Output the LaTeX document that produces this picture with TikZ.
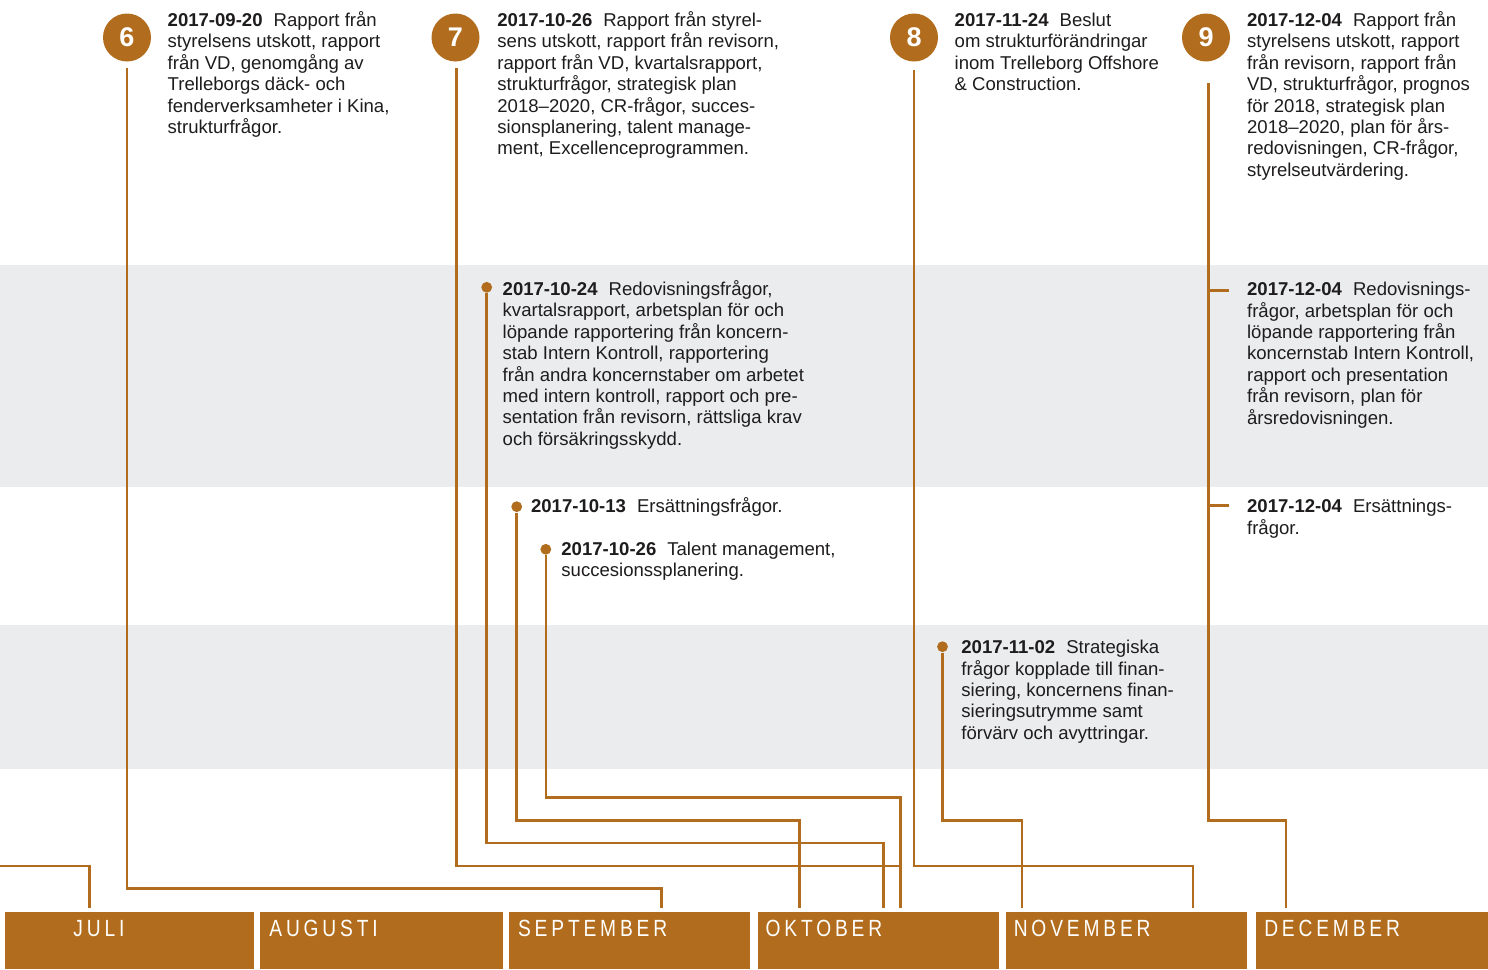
\documentclass[tikz,border=0pt]{standalone}
\usepackage{fontspec}
\setmainfont{Liberation Sans}
\newfontfamily\monthfont[LetterSpace=20]{Liberation Sans}
\usepackage{tikz}
\definecolor{brun}{RGB}{177,109,29}
\definecolor{ljusgra}{RGB}{235,236,238}
\definecolor{textsvart}{RGB}{30,28,29}
\newcommand{\datum}[1]{\rule{0pt}{8pt}\textbf{#1}\hspace{5.5pt}}

\begin{document}
\begin{tikzpicture}
    [line cap=butt,line join=miter,x=0.5pt,y=-0.5pt,
     linje/.style={draw=brun,line width=1.3pt},
     nummer/.style={circle,fill=brun,minimum size=24pt,inner sep=0pt,text=white,
                    font=\fontsize{13.5}{13.5}\selectfont\bfseries},
     prick/.style={circle,fill=brun,minimum size=5.4pt,inner sep=0pt},
     handelse/.style={anchor=north west,align=left,inner sep=0pt,text=textsvart,
                      font=\fontsize{9.28}{10.7}\selectfont},
     manad/.style={anchor=north west,fill=brun,minimum height=28.5pt,inner sep=0pt},
     manadstext/.style={anchor=base west,inner sep=0pt,text=white,
                        font=\fontsize{11.7}{12}\monthfont}]
%background and grey bands
\useasboundingbox (0,0) rectangle (1488,969);
\fill[white] (0,0) rectangle (1488,969);
\fill[ljusgra] (0,265) rectangle (1488,487);
\fill[ljusgra] (0,625) rectangle (1488,768.5);

%months
\node[manad,minimum width=124.8pt] (jul) at (4.4,912) {};
\node[manad,minimum width=121.5pt] (aug) at (260,912) {};
\node[manad,minimum width=120.75pt] (sep) at (508.5,912) {};
\node[manad,minimum width=120.75pt] (okt) at (757.5,912) {};
\node[manad,minimum width=120.5pt] (nov) at (1006,912) {};
\node[manad,minimum width=116pt] (dec) at (1256,912) {};
\node[manadstext] (jul-t) at (73,936) {\scalebox{0.82}[1]{JULI}};
\node[manadstext] (aug-t) at (269,936) {\scalebox{0.82}[1]{AUGUSTI}};
\node[manadstext] (sep-t) at (517.7,936) {\scalebox{0.82}[1]{SEPTEMBER}};
\node[manadstext] (okt-t) at (765.3,936) {\scalebox{0.82}[1]{OKTOBER}};
\node[manadstext] (nov-t) at (1013.4,936) {\scalebox{0.82}[1]{NOVEMBER}};
\node[manadstext] (dec-t) at (1263.9,936) {\scalebox{0.82}[1]{DECEMBER}};

%points on the month bar
\coordinate (jul0) at (jul.north -| 89.7,0);
\coordinate (s20) at (sep.north -| 661.7,0);
\coordinate (o13) at (okt.north -| 799.6,0);
\coordinate (o24) at (okt.north -| 883.5,0);
\coordinate (o26) at (okt.north -| 900.5,0);
\coordinate (n02) at (nov.north -| 1022,0);
\coordinate (n24) at (nov.north -| 1193,0);
\coordinate (d04) at (dec.north -| 1286,0);
\coordinate (vanster) at (0,866);

%board meetings
\node[nummer] (m6) at (127,37.5) {6};
\node[nummer] (m7) at (455.5,37.5) {7};
\node[nummer] (m8) at (914,37.5) {8};
\node[nummer] (m9) at (1206,37.5) {9};

\node[handelse] (e6) at (167.3,10) {\datum{2017-09-20}Rapport från\\
  styrelsens utskott, rapport\\ från VD, genomgång av\\ Trelleborgs däck- och\\
  fenderverksamheter i Kina,\\ strukturfrågor.};
\node[handelse] (e7) at (497,10) {\datum{2017-10-26}Rapport från styrel-\\
  sens utskott, rapport från revisorn,\\ rapport från VD, kvartalsrapport,\\
  strukturfrågor, strategisk plan\\ 2018--2020, CR-frågor, succes-\\
  sionsplanering, talent manage-\\ ment, Excellenceprogrammen.};
\node[handelse] (e8) at (954.3,10) {\datum{2017-11-24}Beslut\\
  om strukturförändringar\\ inom Trelleborg Offshore\\ \& Construction.};
\node[handelse] (e9) at (1246.7,10) {\datum{2017-12-04}Rapport från\\
  styrelsens utskott, rapport\\ från revisorn, rapport från\\
  VD, strukturfrågor, prognos\\ för 2018, strategisk plan\\
  2018--2020, plan för års-\\ redovisningen, CR-frågor,\\ styrelseutvärdering.};

%committee meetings
\node[prick] (p1024) at (486.7,287.3) {};
\node[prick] (p1013) at (516.7,506.7) {};
\node[prick] (p1026) at (545.8,549.3) {};
\node[prick] (p1102) at (942.5,646.7) {};

\node[handelse] (r1024) at (502.3,279) {\datum{2017-10-24}Redovisningsfrågor,\\
  kvartalsrapport, arbetsplan för och\\ löpande rapportering från koncern-\\
  stab Intern Kontroll, rapportering\\ från andra koncernstaber om arbetet\\
  med intern kontroll, rapport och pre-\\ sentation från revisorn, rättsliga krav\\
  och försäkringsskydd.};
\node[handelse] (r1204) at (1246.7,279.3) {\datum{2017-12-04}Redovisnings-\\
  frågor, arbetsplan för och\\ löpande rapportering från\\
  koncernstab Intern Kontroll,\\ rapport och presentation\\
  från revisorn, plan för\\ årsredovisningen.};
\node[handelse] (r1013) at (530.7,495.7) {\datum{2017-10-13}Ersättningsfrågor.};
\node[handelse] (r1204b) at (1246.7,496.3) {\datum{2017-12-04}Ersättnings-\\ frågor.};
\node[handelse] (r1026) at (561,539) {\datum{2017-10-26}Talent management,\\
  succesionssplanering.};
\node[handelse] (r1102) at (961,637.3) {\datum{2017-11-02}Strategiska\\
  frågor kopplade till finan-\\ siering, koncernens finan-\\
  sieringsutrymme samt\\ förvärv och avyttringar.};

%lines down to the months
\draw[linje,shorten >=2pt] (vanster) -| (jul0);
\draw[linje,shorten <=3.25pt,shorten >=2pt] (m6.south) -- (m6.south |- 0,888.7) -| (s20);
\draw[linje,shorten <=3.25pt,shorten >=2pt] ([xshift=0.5pt]m7.south) -- ([xshift=0.5pt]m7.south |- 0,866) -| (o26);
\draw[linje,shorten >=2pt] (p1024) -- (p1024 |- 0,843) -| (o24);
\draw[linje,shorten >=2pt] (p1013) -- (p1013 |- 0,820.7) -| (o13);
\draw[linje,shorten >=2pt] (p1026) -- (p1026 |- 0,797.7) -| (o26);
\draw[linje,shorten <=4.25pt,shorten >=2pt] (m8.south) -- (m8.south |- 0,866) -| (n24);
\draw[linje,shorten >=2pt] (p1102) -- (p1102 |- 0,820.7) -| (n02);
\draw[linje,shorten <=10.75pt,shorten >=2pt] ([xshift=1.25pt]m9.south) -- ([xshift=1.25pt]m9.south |- 0,820.7) -| (d04);
\draw[linje] (1208.5,290.7) -- (1229.3,290.7);
\draw[linje] (1208.5,505.7) -- (1229.3,505.7);
\end{tikzpicture}
\end{document}
